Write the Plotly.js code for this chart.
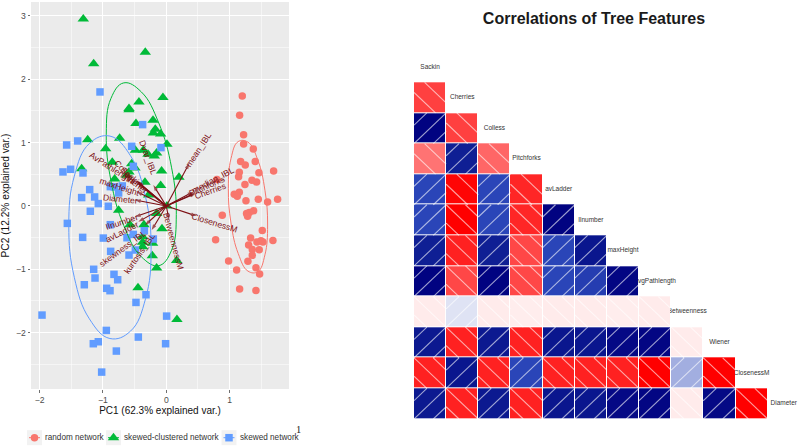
<!DOCTYPE html>
<html>
<head>
<meta charset="utf-8">
<script src="https://cdn.plot.ly/plotly-3.0.1.min.js"></script>
<style>html,body{margin:0;padding:0;background:#fff}#chart{width:800px;height:447px}</style>
</head>
<body>
<div id="chart"></div>
<script>
// ---------- biplot data ----------
const randomX = [1.2,1.158,1.221,1.221,1.374,1.174,1.247,1.405,1.695,1.463,1.153,1.142,1.353,1.426,1.242,0.8,1.153,1.074,1.121,1.258,1.453,1.6,1.758,0.884,1.379,1.311,1.268,1.284,1.516,1.332,0.779,1.432,1.495,1.526,1.684,1.3,1.358,1.468,1.358,1.289,0.984,1.416,1.111,1.474,1.158,1.416];
const randomY = [1.737,1.432,1.126,0.979,0.9,0.7,0.647,0.7,0.553,0.526,0.532,0.463,0.405,0.379,0.337,0.416,0.216,0.184,0.153,0.084,0.105,0.063,0.105,-0.147,-0.074,-0.105,-0.121,-0.163,-0.386,-0.507,-0.533,-0.57,-0.549,-0.57,-0.544,-0.617,-0.686,-0.691,-0.78,-0.875,-0.87,-0.975,-1.012,-1.075,-1.312,-1.333];
const clusteredX = [-1.311,-1.147,-0.332,-0.053,-0.432,-0.589,-0.589,-0.21,-0.479,-0.174,-0.205,-0.089,0.01,-1.242,-0.737,-0.958,-0.489,-0.363,-0.289,-0.153,-0.189,-0.853,-0.547,-0.495,-1.337,-0.074,-0.816,-0.626,-0.589,-0.337,-0.089,0.2,-0.279,0.01,-0.753,-0.153,-0.574,-0.353,-0.068,-0.374,-0.374,-0.374,-0.216,-0.221,-0.153,0.163,-0.447,0.168];
const clusteredY = [2.953,2.247,2.426,1.711,1.642,1.537,1.52,1.353,1.3,1.211,1.153,1.137,0.974,1.047,1.068,0.905,0.879,0.879,0.816,0.837,0.789,0.689,0.668,0.6,0.589,0.553,0.426,0.484,0.537,0.374,0.321,0.453,0.174,0,-0.068,-0.121,-0.296,-0.296,-0.36,-0.486,-0.575,-0.643,-0.59,-0.786,-0.98,-0.86,-1.291,-1.791];
const skewedX = [-1.047,-0.374,-1.4,-1.574,-0.547,-0.084,-1.632,-1.511,-1.316,-0.521,-0.884,-0.821,-0.695,-0.753,-1.21,-1.337,-1.132,-1.074,-0.916,-1.2,-1.563,-0.884,-1.321,-0.995,-0.621,-0.521,-0.347,-0.205,-0.879,-0.589,-0.489,-1.147,-1.126,-0.826,-0.768,-1.295,-0.942,-0.889,-0.321,-0.479,-1.963,0.005,-0.947,-0.442,-1.074,-1.153,-0.789,-0.011,-1.021];
const skewedY = [1.8,1.284,1.026,0.963,0.942,0.921,0.537,0.579,0.521,0.626,0.305,0.3,0.316,0.205,0.258,0.132,0.142,0.037,-0.005,-0.084,-0.275,-0.296,-0.496,-0.507,-0.502,-0.449,-0.391,-0.522,-0.717,-0.775,-0.696,-1,-1.138,-1.08,-1.165,-1.244,-1.3,-1.338,-1.402,-1.523,-1.723,-1.739,-1.965,-2.07,-2.144,-2.175,-2.291,-2.175,-2.623];

const ellipseRandomX = [1.6,1.558,1.445,1.29,1.135,1.022,0.98,1.022,1.135,1.29,1.445,1.558,1.6];
const ellipseRandomY = [-0.301,0.247,0.726,1.007,1.016,0.749,0.279,-0.269,-0.748,-1.029,-1.038,-0.771,-0.301];
const ellipseClusteredX = [0.158,0.084,-0.119,-0.395,-0.672,-0.874,-0.948,-0.874,-0.672,-0.395,-0.119,0.084,0.158];
const ellipseClusteredY = [-0.133,0.602,1.31,1.801,1.943,1.698,1.133,0.398,-0.31,-0.801,-0.943,-0.698,-0.133];
const ellipseSkewedX = [-0.24,-0.327,-0.565,-0.89,-1.215,-1.453,-1.54,-1.453,-1.215,-0.89,-0.565,-0.327,-0.24];
const ellipseSkewedY = [-0.688,0.137,0.792,1.103,0.986,0.471,-0.302,-1.127,-1.782,-2.093,-1.976,-1.461,-0.688];

const loadingNames = ["AvPathlength","Colless","Sackin","Wiener","maxHeight","Diameter","Dvar_IBL","Ilnumber","avLadder","skewness_IBL","kurtosis_IBL","BetweennessM","mean_IBL","median_IBL","Pitchforks","Cherries","ClosenessM"];
const loadingX = [-0.494,-0.463,-0.447,-0.447,-0.468,-0.494,-0.205,-0.494,-0.442,-0.336,-0.231,0.043,0.363,0.427,0.453,0.469,0.48];
const loadingY = [0.409,0.393,0.378,0.346,0.224,0.093,0.33,-0.171,-0.25,-0.302,-0.381,-0.223,0.673,0.224,0.204,0.199,-0.16];
const loadingLabelX = [-0.863,-0.648,-0.547,-0.494,-0.731,-0.72,-0.294,-0.705,-0.705,-0.679,-0.415,0.111,0.506,0.742,0.643,0.69,0.769];
const loadingLabelY = [0.594,0.531,0.461,0.357,0.303,0.109,0.768,-0.25,-0.408,-0.67,-0.749,-0.555,0.883,0.409,0.314,0.235,-0.265];
const loadingAngle = [33,48,42,38,18,6,70,-18,-27,-36,-55,75,-57,-28,-24,-20,17];

// ---------- correlation data ----------
const features = ["Sackin","Cherries","Colless","Pitchforks","avLadder","Ilnumber","maxHeight","avgPathlength","Betweenness","Wiener","ClosenessM","Diameter"];
const corrRows = [
  [-0.75],
  [0.99,-0.75],
  [-0.55,0.9,-0.6],
  [0.8,-0.98,0.8,-0.85],
  [0.8,-1,0.8,-0.85,0.99],
  [0.9,-0.87,0.9,-0.72,0.8,0.93],
  [0.99,-0.72,0.99,-0.72,0.8,0.82,0.98],
  [-0.08,0.12,-0.08,-0.07,-0.08,-0.08,-0.07,-0.08],
  [0.92,-0.87,0.92,-0.87,0.93,0.93,0.97,0.98,-0.08],
  [-0.87,0.93,-0.87,0.8,-0.87,-0.87,-0.87,-1,0.35,-1],
  [0.92,-0.87,0.92,-0.87,0.93,0.93,0.97,0.98,-0.08,0.97,-1]
];

// ---------- styling ----------
const RED='#F8766D', GREEN='#00BA38', BLUE='#619CFF', ARROW='#7d0f14';
const W=800, H=447;
const sans='"Liberation Sans", Arial, sans-serif';
const px=(a,b)=>[a/W,b/W];
const py=(top,bottom)=>[1-bottom/H,1-top/H];

const traces=[];
const pts=(x,y,name,symbol,color,size)=>traces.push({type:'scatter',mode:'markers',x,y,name,
  marker:{symbol,color,size,line:{width:0}},hoverinfo:'skip'});
pts(randomX,randomY,'random network','circle',RED,7.5);
pts(clusteredX,clusteredY,'skewed-clustered network','triangle-up',GREEN,10);
pts(skewedX,skewedY,'skewed network','square',BLUE,7.5);

const ell=(x,y,color)=>traces.push({type:'scatter',mode:'lines',x,y,showlegend:false,
  line:{color,width:1,shape:'spline',smoothing:1.2},hoverinfo:'skip'});
ell(ellipseRandomX,ellipseRandomY,RED);
ell(ellipseClusteredX,ellipseClusteredY,GREEN);
ell(ellipseSkewedX,ellipseSkewedY,BLUE);

loadingNames.forEach((n,i)=>traces.push({type:'scatter',mode:'lines+markers',x:[0,loadingX[i]],y:[0,loadingY[i]],
  name:n,showlegend:false,hoverinfo:'skip',
  line:{color:ARROW,width:1.1},
  marker:{symbol:'arrow',angleref:'previous',size:[0,6],color:ARROW,line:{width:0}}}));

// heatmap labels (under the cells, so a neighbouring cell hides their overflow)
traces.push({type:'scatter',mode:'text',xaxis:'x3',yaxis:'y3',cliponaxis:false,
  x:features.map((_,i)=>i),y:features.map((_,i)=>i-1),text:features,
  textposition:'middle center',textfont:{family:sans,size:6.5,color:'#333'},hoverinfo:'skip',showlegend:false});

const n=corrRows.length;
const z=corrRows.map(r=>r.concat(Array(n-r.length).fill(null)));
traces.push({type:'heatmap',xaxis:'x2',yaxis:'y2',z,x:[...Array(n).keys()],y:[...Array(n).keys()],
  zmin:-1,zmax:1,xgap:1,ygap:1,showscale:false,hoverongaps:false,
  colorscale:[[0,'#ff0000'],[0.5,'#ffffff'],[0.9,'#2a45b8'],[0.95,'#0f1f94'],[1,'#00007f']]});

// hatching: "/" for positive, "\" for negative correlations
const hx=[],hy=[];
corrRows.forEach((row,r)=>row.forEach((v,c)=>{
  const offs=(v<0&&r<=3)?[-0.33,0.33]:[-0.6,0,0.6];
  offs.forEach(o=>{
    const s=v<0?1:-1;
    const d0=Math.max(-0.5,s>0?-0.5-o:o-0.5), d1=Math.min(0.5,s>0?0.5-o:o+0.5);
    hx.push(c+d0,c+d1,null); hy.push(r+s*d0+o,r+s*d1+o,null);
  });
}));
traces.push({type:'scatter',mode:'lines',xaxis:'x2',yaxis:'y2',x:hx,y:hy,hoverinfo:'skip',showlegend:false,
  line:{color:'rgba(255,255,255,0.62)',width:1.1}});

// legend keys, placed in a full-page pixel axis
const keyNames=['random network','skewed-clustered network','skewed network'];
const keySymbols=['circle','triangle-up','square'];
const keyColors=[RED,GREEN,BLUE];
const keyCentres=[34.5,113.5,229];
const keyTextLeft=[44,122.5,238.5];
const keyMid=437.7;
keyNames.forEach((nm,i)=>traces.push({type:'scatter',mode:'lines',xaxis:'x4',yaxis:'y4',
  x:[keyCentres[i]-5.5,keyCentres[i]+5.5],y:[keyMid,keyMid],line:{color:keyColors[i],width:1},hoverinfo:'skip',showlegend:false}));
keyNames.forEach((nm,i)=>traces.push({type:'scatter',mode:'markers',xaxis:'x4',yaxis:'y4',
  x:[keyCentres[i]],y:[keyMid],name:nm,marker:{symbol:keySymbols[i],color:keyColors[i],size:i==1?10:7.5,line:{width:0}},hoverinfo:'skip',showlegend:false}));

const annotations=[];
loadingNames.forEach((t,i)=>annotations.push({xref:'x',yref:'y',x:loadingLabelX[i],y:loadingLabelY[i],text:t,
  showarrow:false,textangle:loadingAngle[i],font:{family:sans,size:8.6,color:ARROW},xanchor:'center',yanchor:'middle'}));
keyNames.forEach((t,i)=>annotations.push({xref:'paper',yref:'paper',x:keyTextLeft[i]/W,y:1-keyMid/H,text:t,showarrow:false,
  xanchor:'left',yanchor:'middle',font:{family:sans,size:8.2,color:'#333'},borderpad:0}));
annotations.push({xref:'paper',yref:'paper',x:298/W,y:1-429/H,text:'1',showarrow:false,xanchor:'center',yanchor:'middle',
  font:{family:'"Liberation Serif", serif',size:10.5,color:'#222'}});

const shapes=keyCentres.map(c=>({type:'rect',xref:'paper',yref:'paper',layer:'below',
  x0:(c-7.5)/W,x1:(c+7.5)/W,y0:1-(keyMid+7.5)/H,y1:1-(keyMid-7.5)/H,fillcolor:'#f2f2f2',line:{width:0}}));
shapes.unshift({type:'rect',xref:'paper',yref:'paper',layer:'below',x0:31/W,x1:289/W,y0:1-389/H,y1:1-2/H,fillcolor:'#EBEBEB',line:{width:0}});

const hidden={visible:false,showgrid:false,zeroline:false,fixedrange:true};
const panelAxis={zeroline:false,showline:false,gridcolor:'#ffffff',gridwidth:1,
  ticks:'outside',ticklen:2.5,tickwidth:0.7,tickcolor:'#333',tickfont:{family:sans,size:8.6,color:'#4d4d4d'},
  dtick:1,tick0:0,minor:{dtick:0.5,tick0:0,showgrid:true,gridcolor:'#ffffff',gridwidth:0.5,ticks:''}};

const layout={
  width:W,height:H,margin:{l:0,r:0,t:0,b:0},paper_bgcolor:'#fff',plot_bgcolor:'rgba(0,0,0,0)',showlegend:false,
  title:{text:'<b>Correlations of Tree Features</b>',x:594/W,xanchor:'center',xref:'paper',y:1-18/H,yref:'paper',yanchor:'middle',
    font:{family:sans,size:16,color:'#1a1a1a'},pad:{t:0,b:0,l:0,r:0}},
  xaxis:{...panelAxis,domain:px(31,289),range:[-2.137,1.938],anchor:'y',
    title:{text:'PC1 (62.3% explained var.)',font:{family:sans,size:10,color:'#111'},standoff:2}},
  yaxis:{...panelAxis,domain:py(2,389),range:[-2.89,3.22],anchor:'x',
    title:{text:'PC2 (12.2% explained var.)',font:{family:sans,size:10.2,color:'#111'},standoff:5}},
  // grid axes overlay the label axes, so cells paint over the labels; both keep one spare row and column for the labels
  xaxis2:{...hidden,domain:px(414,799.85),range:[-0.5,11.5],anchor:'y2',overlaying:'x3'},
  yaxis2:{...hidden,domain:py(51.7,419),range:[10.5,-1.5],anchor:'x2',overlaying:'y3'},
  xaxis3:{...hidden,domain:px(414,799.85),range:[-0.5,11.5],anchor:'y3'},
  yaxis3:{...hidden,domain:py(51.7,419),range:[10.5,-1.5],anchor:'x3'},
  xaxis4:{...hidden,domain:[0,1],range:[0,W],anchor:'y4'},
  yaxis4:{...hidden,domain:[0,1],range:[H,0],anchor:'x4'},
  annotations,shapes
};
Plotly.newPlot('chart',traces,layout,{staticPlot:true,displayModeBar:false});
</script>
</body>
</html>
